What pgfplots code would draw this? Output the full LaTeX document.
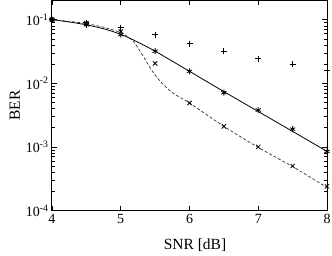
\documentclass[border=0pt]{standalone}
\usepackage{fontspec}
\setmainfont{Liberation Serif}
\usepackage{pgfplots}
\pgfplotsset{compat=1.18}
\begin{document}
\begin{tikzpicture}
\begin{semilogyaxis}[
  name=ax,
  scale only axis,
  width=275pt, height=210pt,
  xmin=4, xmax=8, ymin=1e-4, ymax=0.2,
  xtick={4,5,6,7,8}, xticklabels={4,5,6,7,8},
  ytick={1e-4,1e-3,1e-2,1e-1},
  yticklabels={10\textsuperscript{-4},10\textsuperscript{-3},10\textsuperscript{-2},10\textsuperscript{-1}},
  /pgf/number format/assume math mode=true,
  tick pos=both, tick align=inside,
  major tick length=5pt, minor tick length=3pt,
  tick style={black, line width=0.6pt},
  axis line style={line width=1pt},
  ticklabel style={font=\fontsize{14}{16}\selectfont},
  label style={font=\fontsize{15.5}{18}\selectfont},
  xlabel={SNR [dB]}, ylabel={BER},
  xlabel style={at={(axis description cs:0.52,-0.167)}, anchor=center},
  ylabel style={at={(axis description cs:-0.135,0.5)}, anchor=center},
  clip=false,
]
% solid curve
\addplot[black, line width=0.8pt, smooth, tension=0.4] coordinates {
(4,0.1) (4.25,0.092) (4.5,0.083) (4.75,0.072) (5,0.059) (5.2,0.047)
(5.5,0.032) (6,0.0154) (6.5,0.0074) (7,0.0036) (7.5,0.00175) (8,0.00085)};
% dashed curve
\addplot[black!80, line width=0.7pt, dash pattern=on 3pt off 2pt, smooth, tension=0.4] coordinates {
(4,0.1) (4.25,0.094) (4.5,0.087) (4.75,0.076) (5,0.063) (5.1,0.054) (5.18,0.046)
(5.25,0.036) (5.33,0.0264) (5.42,0.018) (5.5,0.0135) (5.6,0.0100) (5.76,0.0070)
(6,0.0049) (6.5,0.0021) (7,0.00098) (7.5,0.00049) (8,0.00023)};
% plus markers
\addplot[only marks, mark=+, mark size=3pt, black, line width=0.8pt] coordinates {
(4,0.1) (4.5,0.09) (5,0.075) (5.5,0.058) (6,0.042) (6.5,0.032) (7,0.0245) (7.5,0.0198) (8,0.016)};
% x markers
\addplot[only marks, mark=x, mark size=3pt, black, line width=0.8pt] coordinates {
(4,0.1) (4.5,0.088) (5,0.065) (5.5,0.0205) (6,0.0049) (6.5,0.0021) (7,0.001) (7.5,0.0005) (8,0.00024)};
% asterisk markers
\addplot[only marks, mark=asterisk, mark size=3pt, black, line width=0.8pt] coordinates {
(4,0.1) (4.5,0.083) (5,0.058) (5.5,0.032) (6,0.0154) (6.5,0.0071) (7,0.0038) (7.5,0.0019) (8,0.00085)};
\end{semilogyaxis}
\pgfresetboundingbox
\path (ax.south west) +(-52pt,-45pt) (ax.north east) +(5pt,0.5pt);
\end{tikzpicture}
\end{document}
